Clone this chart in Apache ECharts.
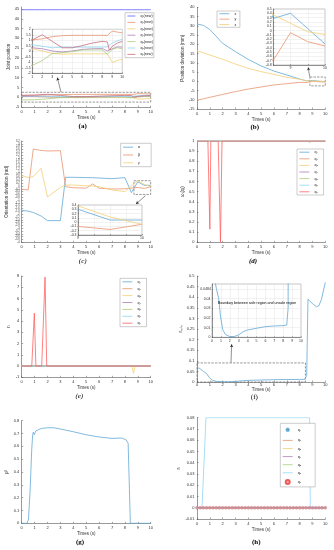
<!DOCTYPE html>
<html><head><meta charset="utf-8">
<script src="https://cdn.jsdelivr.net/npm/echarts@6/dist/echarts.min.js"></script>
<style>
html,body{margin:0;padding:0;background:#fff;width:334px;height:550px;overflow:hidden}
.c{position:absolute;left:0;top:0;width:334px;height:550px}
</style></head>
<body>
<div id="ca" class="c"></div><div id="cb" class="c"></div><div id="cc" class="c"></div><div id="cd" class="c"></div>
<div id="ce" class="c"></div><div id="cf" class="c"></div><div id="cg" class="c"></div><div id="ch" class="c"></div>
<script>
// ================= DATA =================
// (a) joint positions
const tA  = [0, 1, 2, 3, 4, 5, 6, 7, 8, 8.5, 8.7, 9, 9.5, 10];
const aQ1 = [44.6, 44.6, 44.6, 44.6, 44.6, 44.6, 44.6, 44.6, 44.6, 44.6, 44.6, 44.6, 44.6, 44.6];
const aQ2 = [0.95, 1.04, 1.13, 1.33, 1.42, 1.45, 1.45, 1.45, 1.45, 1.45, 1.45, 1.83, 1.75, 1.68];
const aQ3 = [0.3, 0.23, 0.03, -0.2, -0.26, -0.23, -0.23, -0.23, -0.23, -0.23, -0.35, -1.0, -0.84, -0.7];
const aQ4 = [0.35, 0.32, 0.23, 0.03, -0.06, 0.03, 0.17, 0.23, 0.25, 0.03, -0.12, 0.23, 0.4, 0.38];
const aQ5 = [-1.4, -1.28, -0.84, -0.2, -0.12, -0.03, 0.12, 0.12, 0.12, -0.26, -0.1, 0.17, 0.32, 0.23];
const aQ6 = [0.65, 0.6, 0.46, 0.32, 0.38, 0.38, 0.38, 0.38, 0.38, 0.4, 0.55, 0.75, 0.95, 1.1];
const aQ7 = [0.9, 1.04, 1.5, 0.9, 0.32, 0.32, 0.52, 0.75, 0.9, 0.85, 0.12, 0.46, 0.75, 0.9];
const aBox = [[0, 2.5], [10, -2.5]];
const aArrow = [[3.05, 2.5], [2.76, 10]];

// (b) position deviation
const tB = [0, 0.5, 1, 2, 3, 4, 5, 6, 7, 8, 8.5, 9, 9.5, 10];
const bX = [31, 30.2, 28, 20.5, 16, 11.8, 8.3, 5.5, 3.4, 1.2, 0.28, 0.4, 0.045, -0.31];
const bY = [-10.2, -9.5, -8.7, -7.1, -5.6, -4.2, -3.1, -2.0, -1.3, -0.6, -0.69, -0.05, -0.26, -0.36];
const bZ = [16.5, 15.4, 14.2, 11.9, 9.3, 7.0, 5.2, 3.7, 2.1, 1.1, 0.36, 0.17, -0.03, -0.09];
const bBox = [[8.8, 2.3], [10, -2.5]];
const bArrow = [[8.78, 2.5], [8.67, 7.5]];

// (c) orientation deviation
const tC = [0, 0.5, 0.9, 1.5, 2, 3, 3.4, 4, 5, 5.5, 6, 7, 8, 8.5, 9, 9.5, 10];
const cAlpha = [-1.73, -1.78, -1.88, -2.13, -2.46, -2.46, 0.62, 0.62, 0.6, 0.59, 0.57, 0.52, 0.6, -0.47, 0.3, 0.05, 0.05];
const cBeta  = [-0.23, -0.28, 2.63, 2.53, 2.49, 2.51, -0.05, -0.12, -0.15, 0.15, -0.16, -0.21, -0.2, -0.15, -0.1, -0.17, -0.05];
const cGamma = [0.74, 0.6, 0.67, 1.26, -0.78, -0.09, 0.07, 0.07, 0.02, 0.0, -0.05, -0.28, -0.4, 0.0, 0.38, 0.12, -0.05];
const cBox = [[8.7, 0.38], [10, -0.6]];
const cArrow = [[9.6, -0.68], [8.86, -1.28]];

// (d) weights
const dTc = [0, 10];          const dQc = [1, 1];
const dT3 = [0, 8.7, 8.78, 8.86, 10];              const dQ3 = [1, 1, 0.98, 1, 1];
const dT7 = [0, 0.85, 1.0, 1.08, 1.65, 1.83, 1.95, 10]; const dQ7 = [1, 1, 0.13, 1, 1, 0, 1, 1];

// (e) r_i
const eTc = [0, 10];          const eQc = [0, 0];
const eT3 = [0, 8.55, 8.66, 8.79, 10];             const eQ3 = [0, 0, -0.64, 0, 0];
const eT7 = [0, 0.78, 0.98, 1.1, 1.55, 1.81, 1.94, 10]; const eQ7 = [0, 0, 4.7, 0, 0, 7.9, 0, 0];

// (f) r_min
const tF = [0, 0.2, 0.5, 0.75, 0.95, 1.2, 1.5, 2, 2.5, 3, 3.5, 4, 5, 6, 7, 8, 8.4, 8.55, 8.65, 8.8, 9, 9.3, 9.5, 9.7, 10];
const fR = [0.068, 0.064, 0.05, 0.04, 0.022, 0.008, 0.003, 0.0008, 0.0008, 0.0025, 0.0058, 0.0076, 0.0093, 0.011, 0.0117, 0.012, 0.0127, 0.03, 0.39, 0.39, 0.37, 0.355, 0.36, 0.39, 0.47];
const fBoundary = 0.0484;
const fBox = [[0, 0.09], [8.45, 0]];
const fArrow = [[2.65, 0.091], [2.7, 0.178]];
const fArrowIn = [[3.6, 0.039], [3.6, 0.0475]];

// (g) mu^2
const tG = [0, 0.39, 0.52, 0.65, 0.78, 0.85, 0.9, 0.98, 1.09, 1.3, 1.55, 2, 2.5, 3, 4, 5, 6, 7, 7.75, 8.1, 8.25, 8.35, 8.42, 10];
const gV = [0, 0, 0.026, 0.25, 0.58, 0.69, 0.71, 0.69, 0.72, 0.73, 0.74, 0.745, 0.745, 0.735, 0.714, 0.69, 0.673, 0.662, 0.665, 0.65, 0.625, 0.27, 0, 0];

// (h)
const hTc = [0, 10];          const hQc = [0, 0];
const hT6 = [0, 0.39, 0.7, 8.78, 8.83, 10];       const hQ6 = [0, 0, 0.08, 0.08, 0, 0];
const hTm = [0,0.25,0.5,0.75,1,1.25,1.5,1.75,2,2.25,2.5,2.75,3,3.25,3.5,3.75,4,4.25,4.5,4.75,5,5.25,5.5,5.75,6,6.25,6.5,6.75,7,7.25,7.5,7.75,8,8.25,8.5,8.75,9,9.25,9.5,9.75,10];
const hQm = [0,0,0,0,0,0,0,0,0,0,0,0,0,0,0,0,0,0,0,0,0,0,0,0,0,0,0,0,0,0,0,0,0,0,0,0,0,0,0,0,0];

const qNames = ['q\u2081','q\u2082','q\u2083','q\u2084','q\u2085','q\u2086','q\u2087'];
const aNames = qNames.map(n => n + '(new)');
const bNames = ['x', 'y', 'z'];
const cNames = ['\u03b1', '\u03b2', '\u03b3'];

// ================= STYLE HELPERS =================
const FONT = '"Liberation Sans", Arial, Helvetica, sans-serif';
const SERIF = '"Liberation Serif", "Times New Roman", serif';
const AXC = '#555';
function pale(hex, a) {
  const n = parseInt(hex.slice(1), 16);
  const m = v => Math.round(v * a + 255 * (1 - a));
  return 'rgb(' + m((n >> 16) & 255) + ',' + m((n >> 8) & 255) + ',' + m(n & 255) + ')';
}
const AL = 0.62;
const COLA = ['#0000FF','#D95319','#EDB120','#7E2F8E','#77AC30','#4DBEEE','#A2142F'].map(c => pale(c, AL));
const COLQ = ['#0072BD','#D95319','#EDB120','#7E2F8E','#77AC30','#4DBEEE','#FF0000'].map(c => pale(c, AL));
const COL3 = ['#0072BD','#D95319','#EDB120'].map(c => pale(c, AL));

function merge(a, b) {
  const r = Object.assign({}, a);
  for (const k in b) {
    if (b[k] && typeof b[k] === 'object' && !Array.isArray(b[k]) && a[k] && typeof a[k] === 'object' && !Array.isArray(a[k])) r[k] = merge(a[k], b[k]);
    else r[k] = b[k];
  }
  return r;
}
function pairs(t, v) { return t.map((x, i) => [x, v[i]]); }

function gridCfg(l, t, w, h, inset) {
  const g = {left: l, top: t, width: w, height: h, outerBoundsMode: 'none', containLabel: false};
  if (inset) Object.assign(g, {show: true, backgroundColor: '#fff', borderColor: '#888', borderWidth: 0.5, z: 10});
  return g;
}
function xAx(gi, o) {
  return merge({
    type: 'value', gridIndex: gi, min: 0, max: 10, interval: 1,
    axisLine: {show: true, onZero: false, lineStyle: {color: AXC, width: 0.6}},
    axisTick: {show: true, inside: true, length: 1.5, lineStyle: {color: AXC, width: 0.5}},
    axisLabel: {fontSize: 4, margin: 3, color: '#333', fontFamily: FONT},
    splitLine: {show: false},
    name: 'Times (s)', nameLocation: 'middle', nameGap: 7.75,
    nameTextStyle: {fontSize: 4.5, color: '#333', fontFamily: FONT}
  }, o || {});
}
function yAx(gi, o) {
  return merge({
    type: 'value', gridIndex: gi,
    axisLine: {show: true, onZero: false, lineStyle: {color: AXC, width: 0.6}},
    axisTick: {show: true, inside: true, length: 1.5, lineStyle: {color: AXC, width: 0.5}},
    axisLabel: {fontSize: 4, margin: 2.5, color: '#333', fontFamily: FONT},
    splitLine: {show: false},
    nameLocation: 'middle', nameRotate: 90, nameGap: 8,
    nameTextStyle: {fontSize: 4.5, color: '#333', fontFamily: FONT}
  }, o || {});
}
const insetAxis = {name: '', z: 11, axisLabel: {fontSize: 3.5, margin: 1.5}, axisTick: {length: 1},
  splitLine: {show: true, lineStyle: {color: '#e4e4e4', width: 0.5}}};
const intOnly = v => (Math.abs(v - Math.round(v)) < 1e-9 ? String(Math.round(v)) : '');

function line(name, data, color, gi, extra) {
  return merge({type: 'line', name: name, data: data, xAxisIndex: gi, yAxisIndex: gi,
    symbol: 'none', showSymbol: false, lineStyle: {width: 0.8, color: color}, itemStyle: {color: color},
    animation: false, silent: true, z: gi ? 12 : 2, clip: true}, extra || {});
}
function boxArea(p) {
  return {silent: true, itemStyle: {color: 'rgba(0,0,0,0)', borderColor: '#555', borderWidth: 0.6, borderType: 'dashed'},
    label: {show: false}, data: [[{coord: p[0]}, {coord: p[1]}]]};
}
function arrowItem(p) {
  return [{coord: p[0], symbol: 'none'}, {coord: p[1], symbol: 'arrow'}];
}
function arrowLine(p) {
  return {silent: true, symbolSize: [2.5, 3], lineStyle: {color: '#222', width: 0.5, type: 'solid'},
    label: {show: false}, animation: false, data: [arrowItem(p)]};
}
function legendCfg(names, l, t, gap, pad) {
  return {orient: 'vertical', left: l, top: t, itemWidth: 10, itemHeight: 4, itemGap: gap,
    padding: pad, borderColor: '#999', borderWidth: 0.5, backgroundColor: '#fff', z: 30,
    itemStyle: {opacity: 0}, lineStyle: {width: 0.8},
    textStyle: {fontSize: 3.6, lineHeight: 4, color: '#222', fontFamily: FONT},
    selectedMode: false, data: names};
}
function caption(txt, x, y, font) {
  return {type: 'text', x: x, y: y, z: 40, silent: true,
    style: {text: txt, font: font, fill: '#000', align: 'center', verticalAlign: 'middle', textAlign: 'center', textVerticalAlign: 'middle'}};
}
function render(id, opt) {
  const ch = echarts.init(document.getElementById(id), null, {renderer: 'canvas', width: 334, height: 550});
  opt.animation = false;
  opt.backgroundColor = 'transparent';
  ch.setOption(opt);
}

// ================= (a) =================
(function () {
  const qa = [aQ1, aQ2, aQ3, aQ4, aQ5, aQ6, aQ7];
  const series = [];
  qa.forEach((v, i) => series.push(line(aNames[i], pairs(tA, v), COLA[i], 0)));
  series[1].markArea = boxArea(aBox);
  series[1].markLine = arrowLine(aArrow);
  qa.forEach((v, i) => { if (i > 0) series.push(line(aNames[i], pairs(tA, v), COLA[i], 1)); });
  render('ca', {
    grid: [gridCfg(21.7, 7, 129, 100), gridCfg(32.3, 29.3, 90, 44, true)],
    xAxis: [xAx(0, {nameGap: 8.5}), xAx(1, merge(insetAxis, {min: 1, max: 10, interval: 1}))],
    yAxis: [yAx(0, {min: -5, max: 46, interval: 5, axisLabel: {showMaxLabel: false}, name: 'Joint position', nameGap: 7.75}),
            yAx(1, merge(insetAxis, {min: -2, max: 2, interval: 0.5}))],
    legend: merge(legendCfg(aNames, 125, 12.7, 2.4, [1.3, 1, 1.3, 2]), {itemWidth: 8}),
    series: series,
    graphic: [caption('(a)', 82.7, 126, 'bold 7px ' + SERIF)]
  });
})();

// ================= (b) =================
(function () {
  const qb = [bX, bY, bZ];
  const series = [];
  qb.forEach((v, i) => series.push(line(bNames[i], pairs(tB, v), COL3[i], 0)));
  series[1].markArea = boxArea(bBox);
  series[1].markLine = arrowLine(bArrow);
  qb.forEach((v, i) => series.push(line(bNames[i], pairs(tB, v), COL3[i], 1)));
  render('cb', {
    grid: [gridCfg(197, 7.3, 128.3, 101.7), gridCfg(273.3, 9, 51.7, 56, true)],
    xAxis: [xAx(0, {nameGap: 7}), xAx(1, merge(insetAxis, {min: 8.5, max: 10, interval: 0.5, axisLabel: {formatter: intOnly}}))],
    yAxis: [yAx(0, {min: -15, max: 40, interval: 5, name: 'Position deviation (mm)', nameGap: 7.75}),
            yAx(1, merge(insetAxis, {min: -0.8, max: 0.5, interval: 0.1}))],
    legend: legendCfg(bNames, 217, 11, 1.4, [0.75, 3.7, 0.75, 2]),
    series: series,
    graphic: [caption('(b)', 254.7, 126.7, 'bold 7px ' + SERIF)]
  });
})();

// ================= (c) =================
(function () {
  const qc = [cAlpha, cBeta, cGamma];
  const series = [];
  qc.forEach((v, i) => series.push(line(cNames[i], pairs(tC, v), COL3[i], 0)));
  series[1].markArea = boxArea(cBox);
  series[1].markLine = arrowLine(cArrow);
  qc.forEach((v, i) => series.push(line(cNames[i], pairs(tC, v), COL3[i], 1)));
  render('cc', {
    grid: [gridCfg(21.7, 141, 129, 101.3), gridCfg(78, 205, 64, 30, true)],
    xAxis: [xAx(0, {}), xAx(1, merge(insetAxis, {min: 9, max: 10, interval: 0.25, axisLabel: {formatter: intOnly}}))],
    yAxis: [yAx(0, {min: -4, max: 3.2, interval: 0.2, axisLabel: {fontSize: 2.6, margin: 2}, name: 'Orientation deviation (rad)', nameGap: 12}),
            yAx(1, merge(insetAxis, {min: -0.3, max: 0.4, interval: 0.1}))],
    legend: legendCfg(cNames, 120.7, 143.3, 3.8, [1.9, 11, 1.9, 2]),
    series: series,
    graphic: [caption('(c)', 82.7, 261, 'italic 7px ' + SERIF)]
  });
})();

// ================= (d) =================
(function () {
  const series = [];
  for (let i = 0; i < 7; i++) {
    let d = pairs(dTc, dQc);
    if (i === 2) d = pairs(dT3, dQ3);
    if (i === 6) d = pairs(dT7, dQ7);
    series.push(line(qNames[i], d, COLQ[i], 0));
  }
  render('cd', {
    grid: [gridCfg(197, 141, 128.3, 101.3)],
    xAxis: [xAx(0, {})],
    yAxis: [yAx(0, {min: 0, max: 1, interval: 0.1, name: '\u03c9\u209b(q\u1d62)', nameGap: 7})],
    legend: legendCfg(qNames, 297, 149, 2.6, [1.2, 5.7, 1.2, 2]),
    series: series,
    graphic: [caption('(d)', 253, 261, 'bold italic 7px ' + SERIF)]
  });
})();

// ================= (e) =================
(function () {
  const series = [];
  for (let i = 0; i < 7; i++) {
    let d = pairs(eTc, eQc);
    if (i === 2) d = pairs(eT3, eQ3);
    if (i === 6) d = pairs(eT7, eQ7);
    series.push(line(qNames[i], d, COLQ[i], 0));
  }
  render('ce', {
    grid: [gridCfg(21.7, 276, 129, 101.3)],
    xAxis: [xAx(0, {})],
    yAxis: [yAx(0, {min: -1, max: 8, interval: 1, name: 'r\u1d62', nameGap: 9.5})],
    legend: legendCfg(qNames, 120, 278.3, 2.9, [1.5, 5.7, 1.5, 2]),
    series: series,
    graphic: [caption('(e)', 79.3, 396, 'italic 7px ' + SERIF)]
  });
})();

// ================= (f) =================
(function () {
  const main = line('rmin', pairs(tF, fR), COLQ[0], 0);
  main.markArea = boxArea(fBox);
  main.markLine = arrowLine(fArrow);
  const ins = line('rmin', pairs(tF, fR), COLQ[0], 1);
  ins.markLine = {silent: true, symbolSize: [2.5, 3], animation: false, label: {show: false},
    data: [
      {yAxis: fBoundary, symbol: 'none', lineStyle: {color: '#f44', type: 'dashed', width: 0.6},
       label: {show: true, position: 'start', formatter: String(fBoundary), fontSize: 3.5, color: '#333', fontFamily: FONT, distance: 1}},
      [{coord: fArrowIn[0], symbol: 'none', lineStyle: {color: '#222', width: 0.5, type: 'solid'}}, {coord: fArrowIn[1], symbol: 'arrow'}]
    ]};
  render('cf', {
    grid: [gridCfg(197, 276, 128.3, 106), gridCfg(212, 284, 89, 53.3, true)],
    xAxis: [xAx(0, {nameGap: 3.5, axisLabel: {margin: 0.6}}), xAx(1, merge(insetAxis, {min: 0, max: 10, interval: 1}))],
    yAxis: [yAx(0, {min: 0, max: 0.5, interval: 0.05, name: 'r\u2098\u1d62\u2099', nameGap: 8.5}),
            yAx(1, merge(insetAxis, {min: 0, max: 0.055, interval: 0.01, axisLabel: {formatter: v => (v > 0.045 ? '' : String(+v.toFixed(2)))}}))],
    series: [main, ins],
    graphic: [
      caption('Boundary between safe region and unsafe region', 257, 303.3, '3.6px ' + FONT),
      caption('(f)', 254.3, 396.7, '7px ' + SERIF)
    ]
  });
})();

// ================= (g) =================
(function () {
  render('cg', {
    grid: [gridCfg(21.7, 420.7, 129, 102.6)],
    xAxis: [xAx(0, {})],
    yAxis: [yAx(0, {min: 0, max: 0.8, interval: 0.1, name: '\u03bc\u00b2', nameGap: 12})],
    series: [line('mu2', pairs(tG, gV), COLQ[0], 0)],
    graphic: [caption('(g)', 80, 541.7, 'bold 7px ' + SERIF)]
  });
})();

// ================= (h) =================
(function () {
  const star = 'path://M5,0L5,10M0,5L10,5M1.5,1.5L8.5,8.5M8.5,1.5L1.5,8.5';
  const series = [];
  series.push({type: 'scatter', name: qNames[0], data: pairs(hTm, hQm), symbol: star, symbolSize: 3,
    itemStyle: {color: 'none', borderColor: COLQ[0], borderWidth: 0.6}, silent: true, animation: false, z: 3});
  for (let i = 1; i < 6; i++) {
    const d = i === 5 ? pairs(hT6, hQ6) : pairs(hTc, hQc);
    series.push(line(qNames[i], d, COLQ[i], 0));
  }
  series.push({type: 'scatter', name: qNames[6], data: pairs(hTm, hQm), symbol: 'circle', symbolSize: 3,
    itemStyle: {color: 'rgba(255,120,120,0.55)', borderColor: 'rgb(240,90,90)', borderWidth: 0.4}, silent: true, animation: false, z: 4});
  const leg = legendCfg(qNames, 280.3, 423.3, 4.1, [2, 14, 2, 2]);
  leg.data = qNames.map((n, i) => (i === 0 || i === 6)
    ? {name: n, itemStyle: {opacity: 1}, icon: i === 0 ? star : 'circle'} : n);
  render('ch', {
    grid: [gridCfg(197, 417.7, 128.3, 101.3)],
    xAxis: [xAx(0, {nameGap: 7})],
    yAxis: [yAx(0, {min: -0.01, max: 0.08, interval: 0.01, name: 'r\u1d62', nameGap: 7})],
    legend: leg,
    series: series,
    graphic: [caption('(h)', 256.3, 541.7, 'bold 7px ' + SERIF)]
  });
})();
</script>
</body></html>
